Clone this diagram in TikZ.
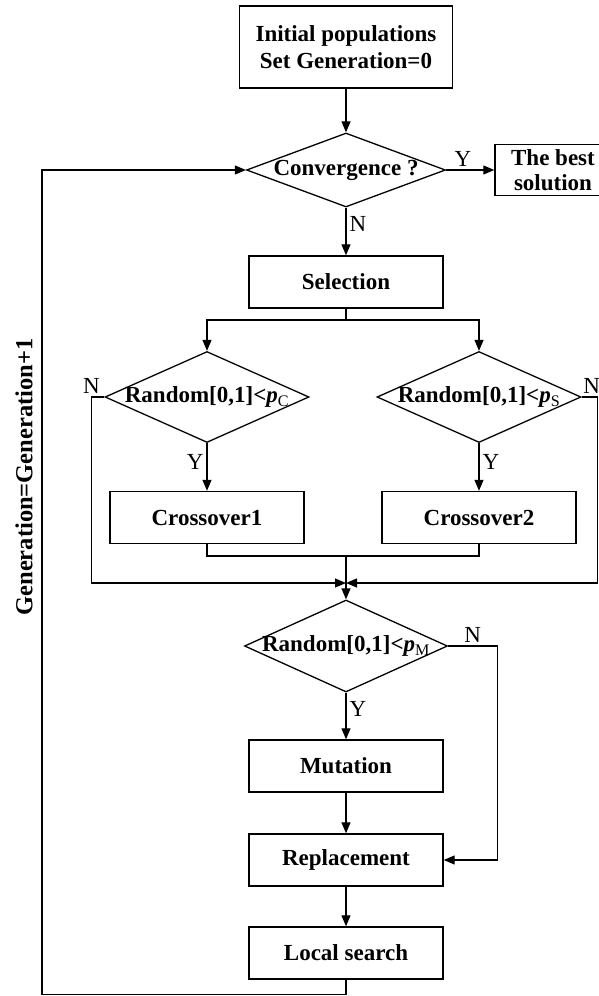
\documentclass[tikz,border=0pt]{standalone}
\usepackage{fontspec}
\setmainfont{Liberation Serif}
\usepackage{tikz}
\usetikzlibrary{arrows.meta, shapes, positioning}

\begin{document}
\begin{tikzpicture}[ % GLOBAL CFG
    x=1pt, y=-1pt,
    font=\fontsize{23}{27}\selectfont\bfseries,
    >={Triangle[length=11pt, width=9pt]},
    % Styles
    block/.style={% For the process boxes
        rectangle,
        draw,
        line width=1.4pt,
        minimum width=194pt,
        minimum height=52pt,
        inner sep=1pt,
        align=center,
        },
    decision/.style={% For the tests
        diamond,
        draw,
        line width=1.3pt,
        aspect=2.5,
        inner xsep=-10pt,
        inner ysep=0pt,
        },
    yn/.style={% For the Y and N marks
        font=\fontsize{23}{27}\selectfont\mdseries,
        inner sep=3pt,
        },
    ArrowL/.style={% Connectors
        line width=1.2pt,
        },
    ]

    \useasboundingbox (0,0) rectangle (598,996);

    % Main column
    \node [block, minimum width=213pt, minimum height=82pt] (init) at (346,47) {Initial populations\\Set Generation=0};
    \node [decision, minimum width=199pt, minimum height=74pt] (conv) at (346,170) {Convergence ?};
    \node [block, minimum width=116pt, minimum height=51pt, font=\fontsize{23}{25}\selectfont\bfseries] (best) at (553,170) {The best\\solution};
    \node [block] (sel) at (346,282) {Selection};

    % Crossover branches
    \node [decision, minimum width=204pt, minimum height=91pt] (randC) at (207,397) {Random[0,1]\textit{<p}\textsubscript{\mdseries C}};
    \node [decision, minimum width=204pt, minimum height=91pt] (randS) at (479,397) {Random[0,1]\textit{<p}\textsubscript{\mdseries S}};
    \node [block] (cross1) at (207,517.5) {Crossover1};
    \node [block] (cross2) at (479,517.5) {Crossover2};

    % Mutation and the rest
    \node [decision, minimum width=203pt, minimum height=92pt] (randM) at (346,646) {Random[0,1]\textit{<p}\textsubscript{\mdseries M}};
    \node [block] (mut) at (346,766) {Mutation};
    \node [block] (rep) at (346,860) {Replacement};
    \node [block] (ls) at (346,953) {Local search};

    \node [rotate=90, font=\fontsize{24.5}{28}\selectfont\bfseries] (gen) at (24,477) {Generation=Generation+1};

    % Junction points
    \coordinate (split) at (346,320);
    \coordinate (merge) at (346,556);
    \coordinate (join) at (346,583);
    \coordinate (back) at (42,994.5);

    \draw [->, ArrowL] (init) -- (conv);
    \draw [->, ArrowL] (conv) -- node[yn, above, pos=0.35] {Y} (best);
    \draw [->, ArrowL] (conv) -- node[yn, right, pos=0.35] {N} (sel);

    \draw [ArrowL] (sel) -- (split);
    \draw [->, ArrowL] (split) -| (randC);
    \draw [->, ArrowL] (split) -| (randS);
    \draw [->, ArrowL] (randC) -- node[yn, left, pos=0.4] {Y} (cross1);
    \draw [->, ArrowL] (randS) -- node[yn, right, pos=0.4] {Y} (cross2);

    \draw [ArrowL] (cross1) |- (merge) -| (cross2);
    \draw [->, ArrowL] (merge) -- (randM);
    \draw [->, ArrowL] (randC.west) -- ++(-13,0) node[yn, above] {N} |- (join);
    \draw [->, ArrowL] (randS.east) -- ++(16,0) node[yn, above, xshift=-6pt] {N} |- (join);

    \draw [->, ArrowL] (randM) -- node[yn, right, pos=0.35] {Y} (mut);
    \draw [->, ArrowL] (randM.east) -- node[yn, above] {N} ++(49,0) |- (rep);
    \draw [->, ArrowL] (mut) -- (rep);
    \draw [->, ArrowL] (rep) -- (ls);

    % Loop back
    \draw [->, ArrowL] (ls) |- (back) |- (conv);

\end{tikzpicture}
\end{document}
